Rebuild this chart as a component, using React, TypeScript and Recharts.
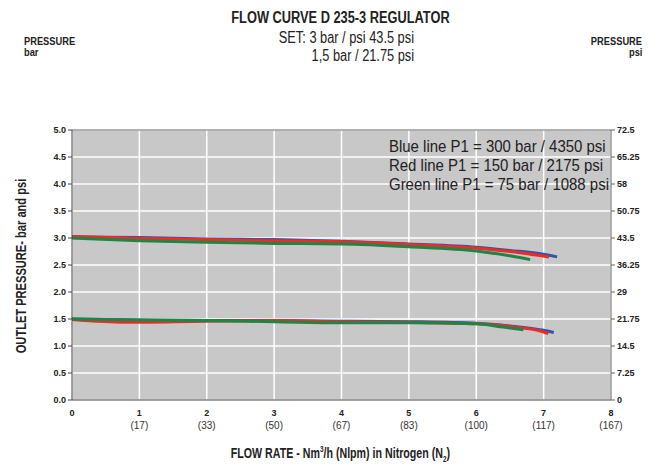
import { LineChart, Line, XAxis, YAxis, CartesianGrid, ReferenceLine } from 'recharts';

const flowTicks = [0, 1, 2, 3, 4, 5, 6, 7, 8];
const nlpmLabels = ['', '(17)', '(33)', '(50)', '(67)', '(83)', '(100)', '(117)', '(167)'];
const barTicks = [0, 0.5, 1, 1.5, 2, 2.5, 3, 3.5, 4, 4.5, 5];
const psiTicks = [0, 7.25, 14.5, 21.75, 29, 36.25, 43.5, 50.75, 58, 65.25, 72.5];

// set 3 bar
const high300 = [
  { x: 0, y: 3.02 }, { x: 1, y: 3.01 }, { x: 2, y: 2.98 }, { x: 3, y: 2.97 }, { x: 4, y: 2.94 },
  { x: 5, y: 2.89 }, { x: 6, y: 2.83 }, { x: 6.5, y: 2.77 }, { x: 7, y: 2.7 }, { x: 7.2, y: 2.65 },
];
const high150 = [
  { x: 0, y: 3.03 }, { x: 1, y: 2.99 }, { x: 2, y: 2.97 }, { x: 3, y: 2.95 }, { x: 4, y: 2.93 },
  { x: 5, y: 2.88 }, { x: 6, y: 2.81 }, { x: 6.5, y: 2.75 }, { x: 7.08, y: 2.65 },
];
const high75 = [
  { x: 0, y: 3.0 }, { x: 1, y: 2.95 }, { x: 2, y: 2.92 }, { x: 3, y: 2.9 }, { x: 4, y: 2.89 },
  { x: 5, y: 2.84 }, { x: 6, y: 2.76 }, { x: 6.5, y: 2.67 }, { x: 6.8, y: 2.6 },
];

// set 1,5 bar
const low300 = [
  { x: 0, y: 1.5 }, { x: 1, y: 1.48 }, { x: 2, y: 1.47 }, { x: 3, y: 1.47 }, { x: 4, y: 1.46 },
  { x: 5, y: 1.45 }, { x: 6, y: 1.42 }, { x: 6.5, y: 1.37 }, { x: 7, y: 1.29 }, { x: 7.15, y: 1.25 },
];
const low150 = [
  { x: 0, y: 1.49 }, { x: 0.8, y: 1.44 }, { x: 2, y: 1.46 }, { x: 3, y: 1.47 }, { x: 4, y: 1.45 },
  { x: 5, y: 1.44 }, { x: 6, y: 1.41 }, { x: 6.5, y: 1.36 }, { x: 7, y: 1.26 }, { x: 7.07, y: 1.23 },
];
const low75 = [
  { x: 0, y: 1.5 }, { x: 1, y: 1.48 }, { x: 2, y: 1.47 }, { x: 3, y: 1.45 }, { x: 4, y: 1.43 },
  { x: 5, y: 1.43 }, { x: 6, y: 1.41 }, { x: 6.4, y: 1.35 }, { x: 6.7, y: 1.3 },
];

const legendLines = [
  'Blue line P1 = 300 bar / 4350 psi',
  'Red line P1 = 150 bar / 2175 psi',
  'Green line P1 = 75 bar / 1088 psi',
];

const BLUE = '#3454a8';
const RED = '#ee2b25';
const GREEN = '#1e8644';
const BAR_TO_PSI = 14.5;
const sans = '"Liberation Sans", Arial, sans-serif';
const tickFont = { fontFamily: sans, fontSize: 9, fontWeight: 700, fill: '#222' };

// psi axis needs a series to draw its ticks; this one is invisible
const psiGuide = high300.map((p) => ({ x: p.x, y: p.y * BAR_TO_PSI }));

const FlowTick = (props: any) => {
  const { x, y, payload, index } = props;
  return (
    <g>
      <text x={x} y={y + 8} textAnchor="middle" style={tickFont}>{payload.value}</text>
      <text x={x} y={y + 21} textAnchor="middle" fontFamily={sans} fontSize={10} fill="#333">
        {nlpmLabels[index] ?? ''}
      </text>
    </g>
  );
};

const squeeze = (k: number, origin = 'center'): React.CSSProperties => ({
  display: 'inline-block',
  transform: `scaleX(${k})`,
  transformOrigin: origin,
  whiteSpace: 'nowrap',
});

export default function App() {
  const series = [
    { d: high300, c: BLUE }, { d: high150, c: RED }, { d: high75, c: GREEN },
    { d: low300, c: BLUE }, { d: low150, c: RED }, { d: low75, c: GREEN },
  ];
  return (
    <div style={{ position: 'absolute', left: 0, top: 0, width: 666, height: 466, background: '#fff', fontFamily: sans, color: '#222' }}>
      <LineChart width={666} height={466} margin={{ top: 130, right: 5, bottom: 26, left: 32 }}>
        <CartesianGrid stroke="#ffffff" strokeWidth={1.5} fill="#c8c8c9" />
        <XAxis
          type="number"
          dataKey="x"
          domain={[0, 8]}
          ticks={flowTicks}
          height={40}
          stroke="#444"
          tickLine={false}
          tick={<FlowTick />}
          interval={0}
          allowDuplicatedCategory={false}
        />
        <YAxis
          type="number"
          domain={[0, 5]}
          ticks={barTicks}
          width={40}
          stroke="#444"
          tickSize={4}
          tick={tickFont}
          tickFormatter={(v: number) => v.toFixed(1)}
          interval={0}
        />
        <YAxis
          yAxisId="psi"
          orientation="right"
          type="number"
          domain={[0, 72.5]}
          ticks={psiTicks}
          width={50}
          stroke="#666"
          tickSize={4}
          tick={{ ...tickFont, textAnchor: 'start' }}
          interval={0}
        />
        <ReferenceLine y={5} stroke="#666" strokeWidth={1} />
        <Line
          yAxisId="psi"
          data={psiGuide}
          dataKey="y"
          stroke="none"
          dot={false}
          activeDot={false}
          isAnimationActive={false}
        />
        {series.map((s, i) => (
          <Line
            key={i}
            data={s.d}
            dataKey="y"
            type="monotone"
            stroke={s.c}
            strokeWidth={3}
            dot={false}
            isAnimationActive={false}
          />
        ))}
      </LineChart>

      <div style={{ position: 'absolute', left: 0, width: 680, top: 9, textAlign: 'center', fontWeight: 700, fontSize: 16 }}>
        <span style={squeeze(0.8)}>FLOW CURVE D 235-3 REGULATOR</span>
      </div>
      <div style={{ position: 'absolute', right: 252, top: 29, textAlign: 'right', fontSize: 16, lineHeight: '18px' }}>
        <span style={squeeze(0.8, 'right')}>SET: 3 bar / psi 43.5 psi</span>
        <br />
        <span style={squeeze(0.8, 'right')}>1,5 bar / 21.75 psi</span>
      </div>
      <div style={{ position: 'absolute', left: 24, top: 36, fontWeight: 700, fontSize: 10, lineHeight: '11px' }}>
        <span style={squeeze(0.93, 'left')}>PRESSURE</span>
        <br />
        <span style={squeeze(0.93, 'left')}>bar</span>
      </div>
      <div style={{ position: 'absolute', right: 24, top: 36, fontWeight: 700, fontSize: 10, lineHeight: '11px', textAlign: 'right' }}>
        <span style={squeeze(0.93, 'right')}>PRESSURE</span>
        <br />
        <span style={squeeze(0.93, 'right')}>psi</span>
      </div>
      <div style={{ position: 'absolute', left: 389, top: 137, fontSize: 17, lineHeight: '19px' }}>
        {legendLines.map((t) => (
          <div key={t}>
            <span style={squeeze(0.88, 'left')}>{t}</span>
          </div>
        ))}
      </div>
      <div
        style={{
          position: 'absolute', left: 20, top: 266, transform: 'translate(-50%, -50%) rotate(-90deg) scaleX(0.74)',
          whiteSpace: 'nowrap', fontWeight: 700, fontSize: 15,
        }}
      >
        OUTLET PRESSURE- bar and psi
      </div>
      <div style={{ position: 'absolute', left: 0, width: 680, top: 444, textAlign: 'center', fontWeight: 700, fontSize: 15 }}>
        <span style={squeeze(0.71)}>
          FLOW RATE - Nm<sup style={{ fontSize: 9 }}>3</sup>/h (Nlpm) in Nitrogen (N<sub style={{ fontSize: 9 }}>2</sub>)
        </span>
      </div>
    </div>
  );
}
